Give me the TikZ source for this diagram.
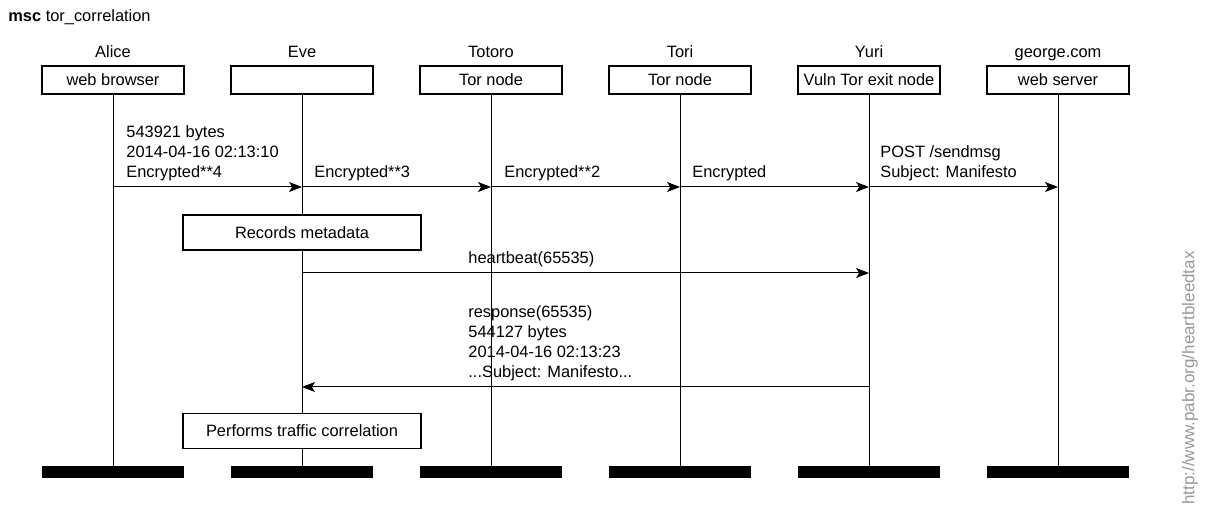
\documentclass[tikz,border=0pt]{standalone}
\usepackage{fontspec}
\setmainfont{Liberation Sans}
\usetikzlibrary{arrows.meta}
\begin{document}
\begin{tikzpicture}[x=0.5pt,y=-0.5pt,
  every node/.style={font=\fontsize{8.2}{10}\selectfont},
  head/.style={draw,line width=0.6pt,minimum width=71pt,minimum height=14pt,inner sep=0pt},
  endbar/.style={fill=black,minimum width=71pt,minimum height=6pt,inner sep=0pt},
  actname/.style={inner sep=0pt,anchor=base},
  lifeline/.style={line width=0.5pt},
  msg/.style={line width=0.5pt,-{Stealth[length=6.5pt,width=5pt,inset=1.6pt]}},
  lbl/.style={align=left,anchor=south west,inner sep=0pt},
  action/.style={draw,fill=white,line width=0.6pt,minimum width=119pt,minimum height=17.5pt,inner sep=0pt}]
\useasboundingbox (0,0) rectangle (1208,522);

% title
\node[anchor=base west,inner sep=0pt] (title) at (8,22) {\textbf{msc} tor\_correlation};

% instance names
\node[actname] (nA) at (113,58) {Alice};
\node[actname] (nE) at (302,58) {Eve};
\node[actname] (nT) at (491,58) {Totoro};
\node[actname] (nR) at (680,58) {Tori};
\node[actname] (nY) at (869,58) {Yuri};
\node[actname] (nG) at (1058,58) {george.com};

% heads
\node[head] (hA) at (113,80) {web browser};
\node[head] (hE) at (302,80) {};
\node[head] (hT) at (491,80) {Tor node};
\node[head] (hR) at (680,80) {Tor node};
\node[head] (hY) at (869,80) {Vuln Tor exit node};
\node[head] (hG) at (1058,80) {web server};

% end bars
\node[endbar] (eA) at (113,472) {};
\node[endbar] (eE) at (302,472) {};
\node[endbar] (eT) at (491,472) {};
\node[endbar] (eR) at (680,472) {};
\node[endbar] (eY) at (869,472) {};
\node[endbar] (eG) at (1058,472) {};

% lifelines
\foreach \h/\e in {hA/eA,hE/eE,hT/eT,hR/eR,hY/eY,hG/eG}
  \draw[lifeline] (\h.south) -- (\e.north);

% message coordinates
\coordinate (m1a) at (hA |- 0,187);
\coordinate (m1e) at (hE |- 0,187);
\coordinate (m1t) at (hT |- 0,187);
\coordinate (m1r) at (hR |- 0,187);
\coordinate (m1y) at (hY |- 0,187);
\coordinate (m1g) at (hG |- 0,187);
\coordinate (hbE) at (hE |- 0,273);
\coordinate (hbY) at (hY |- 0,273);
\coordinate (rsY) at (hY |- 0,387);
\coordinate (rsE) at (hE |- 0,387);

% messages
\draw[msg] (m1a) -- (m1e);
\draw[msg] (m1e) -- (m1t);
\draw[msg] (m1t) -- (m1r);
\draw[msg] (m1r) -- (m1y);
\draw[msg] (m1y) -- (m1g);
\draw[msg] (hbE) -- (hbY);
\draw[msg] (rsY) -- (rsE);

% labels
\node[lbl] (l1) at (126,181) {543921 bytes\\2014-04-16 02:13:10\\Encrypted**4};
\node[lbl] (l2) at (314,181) {Encrypted**3};
\node[lbl] (l3) at (504,181) {Encrypted**2};
\node[lbl] (l4) at (692,181) {Encrypted};
\node[lbl] (l5) at (880,181) {POST /sendmsg\\Subject: Manifesto};
\node[lbl] (l6) at (468,267) {heartbeat(65535)};
\node[lbl] (l7) at (468,381) {response(65535)\\544127 bytes\\2014-04-16 02:13:23\\...Subject: Manifesto...};

% actions
\node[action] (act1) at (302,232.5) {Records metadata};
\node[action] (act2) at (302,431) {Performs traffic correlation};

% watermark
\node[rotate=90,text=black!40,inner sep=0pt,font=\fontsize{8.5}{10}\selectfont] (wm) at (1190,378) {http://www.pabr.org/heartbleedtax};
\end{tikzpicture}
\end{document}
